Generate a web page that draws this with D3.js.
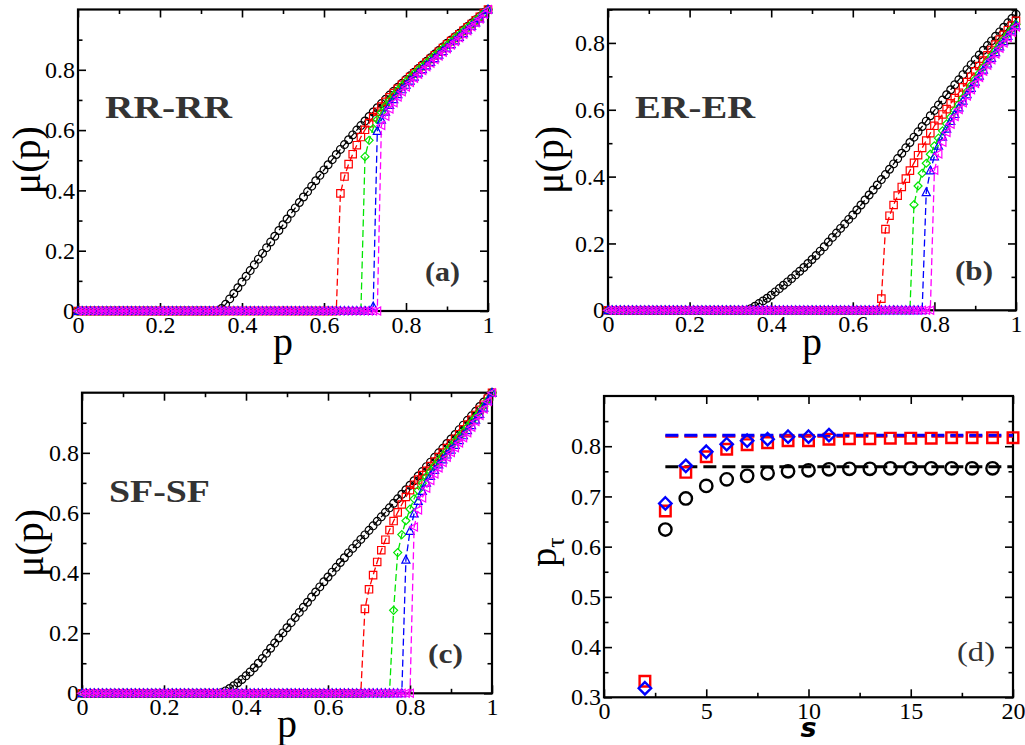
<!DOCTYPE html>
<html>
<head>
<meta charset="utf-8">
<script src="https://cdn.jsdelivr.net/npm/d3@7"></script>
<style>
  body { margin: 0; background: #fff; }
  svg { display: block; }
</style>
</head>
<body>
<svg id="fig" width="1025" height="745"></svg>
<script>
// ---------------------------------------------------------------------------
// Data: mu(p) sampled at p = 0, 0.01, ..., 1 (101 points per series)
// Series order in every panel: black, red, green, blue, magenta
// ---------------------------------------------------------------------------
const pGrid = d3.range(101).map(i => i / 100);

// (a) RR-RR
const rrBlack = [
  0,0,0,0,0,0,0,0,0,0, 0,0,0,0,0,0,0,0,0,0, 0,0,0,0,0,0,0,0,0,0, 0,0,0,0,0,
  .008,.022,.040,.058,.077,
  .096,.115,.134,.153,.172,.191,.210,.229,.248,.267,
  .286,.305,.324,.342,.360,.378,.396,.414,.432,.450,
  .468,.485,.502,.519,.536,.552,.568,.584,.600,.615,
  .630,.645,.660,.674,.688,.702,.716,.729,.742,.755,
  .768,.780,.792,.804,.816,.828,.840,.852,.864,.876,
  .888,.899,.910,.921,.932,.944,.955,.966,.977,.989,
  1.000];
const rrRed = [
  0,0,0,0,0,0,0,0,0,0, 0,0,0,0,0,0,0,0,0,0, 0,0,0,0,0,0,0,0,0,0,
  0,0,0,0,0,0,0,0,0,0, 0,0,0,0,0,0,0,0,0,0, 0,0,0,0,0,0,0,0,0,0, 0,0,0,0,
  .390,.446,.487,.520,.550,.577,
  .601,.623,.643,.661,.678,.694,.709,.723,.737,.750,
  .763,.776,.788,.800,.812,.824,.836,.848,.860,.872,
  .884,.895,.906,.918,.929,.941,.952,.964,.976,.988,
  1.000];
const rrGreen = [
  0,0,0,0,0,0,0,0,0,0, 0,0,0,0,0,0,0,0,0,0, 0,0,0,0,0,0,0,0,0,0,
  0,0,0,0,0,0,0,0,0,0, 0,0,0,0,0,0,0,0,0,0, 0,0,0,0,0,0,0,0,0,0,
  0,0,0,0,0,0,0,0,0,0,
  .512,.566,.605,.635,.659,.680,.699,.716,.732,.747,
  .761,.774,.787,.799,.811,.823,.835,.847,.859,.870,
  .882,.893,.905,.916,.928,.940,.951,.963,.975,.988,
  1.000];
const rrBlue = [
  0,0,0,0,0,0,0,0,0,0, 0,0,0,0,0,0,0,0,0,0, 0,0,0,0,0,0,0,0,0,0,
  0,0,0,0,0,0,0,0,0,0, 0,0,0,0,0,0,0,0,0,0, 0,0,0,0,0,0,0,0,0,0,
  0,0,0,0,0,0,0,0,0,0, 0,0,
  .015,.597,.634,.661,.683,.702,.719,.735,
  .750,.764,.777,.790,.802,.814,.826,.838,.850,.862,
  .873,.885,.897,.909,.921,.933,.945,.957,.970,.985,
  1.000];
const rrMagenta = [
  0,0,0,0,0,0,0,0,0,0, 0,0,0,0,0,0,0,0,0,0, 0,0,0,0,0,0,0,0,0,0,
  0,0,0,0,0,0,0,0,0,0, 0,0,0,0,0,0,0,0,0,0, 0,0,0,0,0,0,0,0,0,0,
  0,0,0,0,0,0,0,0,0,0, 0,0,0,0,
  .615,.646,.670,.691,.710,.727,
  .743,.758,.772,.785,.798,.810,.822,.834,.846,.858,
  .870,.882,.894,.906,.918,.930,.943,.956,.969,.984,
  1.000];

// (b) ER-ER
const erBlack = [
  0,0,0,0,0,0,0,0,0,0, 0,0,0,0,0,0,0,0,0,0, 0,0,0,0,0,0,0,0,0,0, 0,0,0,0,0,
  .005,.012,.020,.028,.036,
  .045,.055,.065,.075,.085,.095,.106,.117,.128,.140,
  .152,.164,.177,.190,.204,.218,.231,.245,.258,.272,
  .285,.300,.315,.330,.345,.360,.375,.391,.406,.422,
  .438,.454,.470,.486,.502,.518,.534,.550,.566,.582,
  .598,.614,.629,.645,.660,.675,.690,.705,.720,.735,
  .750,.764,.778,.792,.806,.820,.833,.847,.860,.873,
  .886];
const erRed = [
  0,0,0,0,0,0,0,0,0,0, 0,0,0,0,0,0,0,0,0,0, 0,0,0,0,0,0,0,0,0,0,
  0,0,0,0,0,0,0,0,0,0, 0,0,0,0,0,0,0,0,0,0, 0,0,0,0,0,0,0,0,0,0, 0,0,0,0,0,0,0,
  .035,.243,.283,
  .315,.343,.369,.394,.418,.441,.464,.486,.508,.530,
  .552,.569,.586,.602,.619,.635,.651,.667,.683,.699,
  .715,.731,.747,.763,.779,.795,.810,.824,.838,.852,
  .866];
const erGreen = [
  0,0,0,0,0,0,0,0,0,0, 0,0,0,0,0,0,0,0,0,0, 0,0,0,0,0,0,0,0,0,0,
  0,0,0,0,0,0,0,0,0,0, 0,0,0,0,0,0,0,0,0,0, 0,0,0,0,0,0,0,0,0,0,
  0,0,0,0,0,0,0,0,0,0, 0,0,0,0,0,
  .316,.372,.410,.440,.467,
  .492,.515,.537,.558,.578,.598,.617,.636,.655,.673,
  .691,.709,.727,.744,.761,.778,.794,.810,.826,.841,
  .856];
const erBlue = [
  0,0,0,0,0,0,0,0,0,0, 0,0,0,0,0,0,0,0,0,0, 0,0,0,0,0,0,0,0,0,0,
  0,0,0,0,0,0,0,0,0,0, 0,0,0,0,0,0,0,0,0,0, 0,0,0,0,0,0,0,0,0,0,
  0,0,0,0,0,0,0,0,0,0, 0,0,0,0,0,0,0,0,
  .353,.418,
  .460,.492,.519,.543,.566,.587,.607,.627,.646,.665,
  .684,.702,.720,.738,.755,.772,.789,.805,.821,.837,
  .852];
const erMagenta = [
  0,0,0,0,0,0,0,0,0,0, 0,0,0,0,0,0,0,0,0,0, 0,0,0,0,0,0,0,0,0,0,
  0,0,0,0,0,0,0,0,0,0, 0,0,0,0,0,0,0,0,0,0, 0,0,0,0,0,0,0,0,0,0,
  0,0,0,0,0,0,0,0,0,0, 0,0,0,0,0,0,0,0,0,0,
  .419,.468,.503,.532,.557,.580,.601,.621,.641,.660,
  .679,.697,.715,.733,.750,.767,.784,.800,.816,.832,
  .848];

// (c) SF-SF
const sfBlack = [
  0,0,0,0,0,0,0,0,0,0, 0,0,0,0,0,0,0,0,0,0, 0,0,0,0,0,0,0,0,0,0, 0,0,0,0,
  .002,.008,.016,.025,.035,.046,
  .058,.071,.085,.100,.116,.133,.150,.167,.184,.201,
  .218,.235,.252,.269,.286,.303,.320,.337,.354,.371,
  .387,.403,.419,.435,.451,.467,.482,.497,.512,.527,
  .542,.557,.572,.587,.602,.617,.632,.647,.662,.677,
  .692,.707,.723,.738,.754,.769,.785,.800,.815,.831,
  .846,.861,.877,.892,.908,.923,.938,.954,.969,.985,
  1.000];
const sfRed = [
  0,0,0,0,0,0,0,0,0,0, 0,0,0,0,0,0,0,0,0,0, 0,0,0,0,0,0,0,0,0,0,
  0,0,0,0,0,0,0,0,0,0, 0,0,0,0,0,0,0,0,0,0, 0,0,0,0,0,0,0,0,0,0,
  0,0,0,0,0,0,0,0,0,
  .281,
  .346,.393,.437,.476,.511,.543,.573,.602,.628,.653,
  .676,.694,.711,.726,.740,.756,.771,.786,.801,.816,
  .831,.847,.862,.878,.894,.910,.926,.943,.960,.980,
  1.000];
const sfGreen = [
  0,0,0,0,0,0,0,0,0,0, 0,0,0,0,0,0,0,0,0,0, 0,0,0,0,0,0,0,0,0,0,
  0,0,0,0,0,0,0,0,0,0, 0,0,0,0,0,0,0,0,0,0, 0,0,0,0,0,0,0,0,0,0,
  0,0,0,0,0,0,0,0,0,0, 0,0,0,0,0,0,
  .276,.468,.528,.574,
  .613,.647,.675,.699,.720,.739,.757,.774,.790,.806,
  .822,.838,.854,.870,.886,.902,.919,.936,.955,.976,
  1.000];
const sfBlue = [
  0,0,0,0,0,0,0,0,0,0, 0,0,0,0,0,0,0,0,0,0, 0,0,0,0,0,0,0,0,0,0,
  0,0,0,0,0,0,0,0,0,0, 0,0,0,0,0,0,0,0,0,0, 0,0,0,0,0,0,0,0,0,0,
  0,0,0,0,0,0,0,0,0,0, 0,0,0,0,0,0,0,0,0,
  .444,
  .540,.598,.640,.673,.700,.723,.743,.761,.778,.794,
  .810,.826,.842,.858,.875,.892,.910,.929,.950,.973,
  1.000];
const sfMagenta = [
  0,0,0,0,0,0,0,0,0,0, 0,0,0,0,0,0,0,0,0,0, 0,0,0,0,0,0,0,0,0,0,
  0,0,0,0,0,0,0,0,0,0, 0,0,0,0,0,0,0,0,0,0, 0,0,0,0,0,0,0,0,0,0,
  0,0,0,0,0,0,0,0,0,0, 0,0,0,0,0,0,0,0,0,0, 0,
  .553,.610,.650,.682,.708,.730,.750,.768,.785,
  .801,.817,.833,.850,.867,.885,.904,.924,.946,.971,
  1.000];

// (d) threshold p_tau versus s
const dBlackS = [3,4,5,6,7,8,9,10,11,12,13,14,15,16,17,18,19];
const dBlack  = [.634,.696,.721,.734,.741,.746,.750,.752,.754,.755,.755,.756,.756,.756,.756,.756,.756];
const dRedS   = [2,3,4,5,6,7,8,9,10,11,12,13,14,15,16,17,18,19,20];
const dRed    = [.332,.671,.748,.779,.794,.803,.807,.811,.811,.814,.815,.815,.816,.816,.816,.817,.817,.817,.817];
const dBlueS  = [2,3,4,5,6,7,8,9,10,11];
const dBlue   = [.318,.686,.761,.789,.804,.811,.814,.819,.819,.822];
// asymptotic values shown as dashed lines from s = 3 to s = 20
const dLimitBlack = 0.759;
const dLimitRed   = 0.820;
const dLimitBlue  = 0.822;
const dLimitRange = [3, 20];

// Tick values
const pMajor = [0, 0.2, 0.4, 0.6, 0.8, 1];
const pMinor = [0.1, 0.3, 0.5, 0.7, 0.9];
const muMajor = [0, 0.2, 0.4, 0.6, 0.8];
const muMinor = [0.1, 0.3, 0.5, 0.7, 0.9];
const sMajor = [0, 5, 10, 15, 20];
const sMinor = [2.5, 7.5, 12.5, 17.5];
const ptMajor = [0.3, 0.4, 0.5, 0.6, 0.7, 0.8];
const ptMinor = [0.35, 0.45, 0.55, 0.65, 0.75, 0.85];

// ---------------------------------------------------------------------------
// Drawing
// ---------------------------------------------------------------------------
const SERIF = '"Liberation Serif", "Times New Roman", serif';
const SANS  = '"DejaVu Sans", "Liberation Sans", Arial, sans-serif';
const colors  = ["#000000", "#ff0000", "#00e600", "#0000ff", "#ff00ff"];
const symbols = ["circle", "square", "diamond", "triUp", "triLeft"];

const svg = d3.select("#fig");

function symbolPath(type, h) {
  switch (type) {
    case "square":  return `M${-h},${-h}H${h}V${h}H${-h}Z`;
    case "diamond": return `M0,${-h}L${h},0L0,${h}L${-h},0Z`;
    case "triUp":   return `M0,${-h}L${h*0.9},${h*0.75}L${-h*0.9},${h*0.75}Z`;
    case "triLeft": return `M${-h},0L${h*0.75},${-h*0.9}L${h*0.75},${h*0.9}Z`;
    default:        return d3.symbol(d3.symbolCircle, Math.PI * h * h)();
  }
}

function drawFrameAndAxes(g, box, x, y, xMaj, xMin, yMaj, yMin, xFmt, yFmt) {
  const styleAxis = sel => {
    sel.select(".domain").remove();
    sel.selectAll(".tick line").attr("stroke", "#000").attr("stroke-width", 1.6);
    sel.selectAll(".tick text").attr("fill", "#000")
      .style("font-family", SERIF).style("font-size", "24px");
  };
  const maj = 8, mnr = 4.5;
  g.append("g").attr("transform", `translate(0,${box.bottom})`)
    .call(d3.axisBottom(x).tickValues(xMaj).tickSize(-maj).tickPadding(5).tickFormat(xFmt)).call(styleAxis);
  g.append("g").attr("transform", `translate(0,${box.bottom})`)
    .call(d3.axisBottom(x).tickValues(xMin).tickSize(-mnr).tickFormat("")).call(styleAxis);
  g.append("g").attr("transform", `translate(0,${box.top})`)
    .call(d3.axisTop(x).tickValues(xMaj).tickSize(-maj).tickFormat("")).call(styleAxis);
  g.append("g").attr("transform", `translate(0,${box.top})`)
    .call(d3.axisTop(x).tickValues(xMin).tickSize(-mnr).tickFormat("")).call(styleAxis);
  g.append("g").attr("transform", `translate(${box.left},0)`)
    .call(d3.axisLeft(y).tickValues(yMaj).tickSize(-maj).tickPadding(3).tickFormat(yFmt)).call(styleAxis);
  g.append("g").attr("transform", `translate(${box.left},0)`)
    .call(d3.axisLeft(y).tickValues(yMin).tickSize(-mnr).tickFormat("")).call(styleAxis);
  g.append("g").attr("transform", `translate(${box.right},0)`)
    .call(d3.axisRight(y).tickValues(yMaj).tickSize(-maj).tickFormat("")).call(styleAxis);
  g.append("g").attr("transform", `translate(${box.right},0)`)
    .call(d3.axisRight(y).tickValues(yMin).tickSize(-mnr).tickFormat("")).call(styleAxis);
  g.append("rect")
    .attr("x", box.left).attr("y", box.top)
    .attr("width", box.right - box.left).attr("height", box.bottom - box.top)
    .attr("fill", "none").attr("stroke", "#000").attr("stroke-width", 2.2);
}

const fmtP = d => (d === 0 || d === 1) ? String(d) : d.toFixed(1);

// Panels (a)-(c): mu(p)
const muPanels = [
  { box: {left: 78,  right: 488, top: 9.5,   bottom: 311},   yMax: 1.0,
    series: [rrBlack, rrRed, rrGreen, rrBlue, rrMagenta],
    name: "RR-RR", nameAt: [105, 118, 127], tag: "(a)", tagAt: [425, 281, 35],
    yLabelX: 40, xLabelY: 355 },
  { box: {left: 608, right: 1016, top: 9.5,  bottom: 310.3}, yMax: 0.9,
    series: [erBlack, erRed, erGreen, erBlue, erMagenta],
    name: "ER-ER", nameAt: [635, 118, 120], tag: "(b)", tagAt: [955, 280, 38],
    yLabelX: 563, xLabelY: 355 },
  { box: {left: 82,  right: 492, top: 392.7, bottom: 693.3}, yMax: 1.0,
    series: [sfBlack, sfRed, sfGreen, sfBlue, sfMagenta],
    name: "SF-SF", nameAt: [109, 502, 101], tag: "(c)", tagAt: [428, 663, 35],
    yLabelX: 43, xLabelY: 737 }
];

muPanels.forEach(P => {
  const b = P.box;
  const g = svg.append("g");
  const x = d3.scaleLinear().domain([0, 1]).range([b.left, b.right]);
  const y = d3.scaleLinear().domain([0, P.yMax]).range([b.bottom, b.top]);

  drawFrameAndAxes(g, b, x, y, pMajor, pMinor, muMajor,
    muMinor.filter(v => v < P.yMax + 1e-9), fmtP, fmtP);

  const line = d3.line().x((d, i) => x(pGrid[i])).y(d => y(d));
  P.series.forEach((vals, k) => {
    g.append("path").datum(vals)
      .attr("d", line).attr("fill", "none")
      .attr("stroke", colors[k]).attr("stroke-width", 1.3)
      .attr("stroke-dasharray", "7,3.5");
    const h = [3.9, 3.7, 4.0, 4.5, 4.5][k];
    g.append("g").selectAll("path").data(vals).join("path")
      .attr("transform", (d, i) => `translate(${x(pGrid[i])},${y(d)})`)
      .attr("d", symbolPath(symbols[k], h))
      .attr("fill", "none").attr("stroke", colors[k]).attr("stroke-width", 1.2);
  });

  g.append("text").text(P.name)
    .attr("x", P.nameAt[0]).attr("y", P.nameAt[1])
    .attr("textLength", P.nameAt[2]).attr("lengthAdjust", "spacingAndGlyphs")
    .style("font-family", SERIF).style("font-size", "31px")
    .attr("font-weight", "bold").attr("fill", "#333");
  g.append("text").text(P.tag)
    .attr("x", P.tagAt[0]).attr("y", P.tagAt[1])
    .attr("textLength", P.tagAt[2]).attr("lengthAdjust", "spacingAndGlyphs")
    .style("font-family", SERIF).style("font-size", "27px")
    .attr("font-weight", "bold").attr("fill", "#333");

  g.append("text").text("μ(p)")
    .attr("transform", `translate(${P.yLabelX},${(b.top + b.bottom) / 2}) rotate(-90)`)
    .attr("text-anchor", "middle").style("font-family", SERIF).style("font-size", "40px")
    .attr("fill", "#000");
  g.append("text").text("p")
    .attr("x", (b.left + b.right) / 2).attr("y", P.xLabelY)
    .attr("text-anchor", "middle").style("font-family", SERIF).style("font-size", "40px")
    .attr("fill", "#000");
});

// Panel (d): p_tau versus s
(() => {
  const b = {left: 604, right: 1013, top: 396, bottom: 697.3};
  const g = svg.append("g");
  const x = d3.scaleLinear().domain([0, 20]).range([b.left, b.right]);
  const y = d3.scaleLinear().domain([0.3, 0.9]).range([b.bottom, b.top]);

  drawFrameAndAxes(g, b, x, y, sMajor, sMinor, ptMajor, ptMinor,
    d3.format("d"), d3.format(".1f"));

  const limits = [[dLimitBlack, colors[0]], [dLimitRed, colors[1]], [dLimitBlue, colors[3]]];
  limits.forEach(([v, c]) => {
    g.append("line")
      .attr("x1", x(dLimitRange[0])).attr("x2", x(dLimitRange[1]))
      .attr("y1", y(v)).attr("y2", y(v))
      .attr("stroke", c).attr("stroke-width", 3).attr("stroke-dasharray", "13,6");
  });

  const sets = [
    [dBlackS, dBlack, "circle", colors[0], 6.2],
    [dRedS, dRed, "square", colors[1], 5.3],
    [dBlueS, dBlue, "diamond", colors[3], 6.2]
  ];
  sets.forEach(([sv, vv, sym, c, h]) => {
    g.append("g").selectAll("path").data(vv).join("path")
      .attr("transform", (d, i) => `translate(${x(sv[i])},${y(d)})`)
      .attr("d", symbolPath(sym, h))
      .attr("fill", "none").attr("stroke", c).attr("stroke-width", 2.4);
  });

  g.append("text").text("(d)")
    .attr("x", 957).attr("y", 661)
    .attr("textLength", 38).attr("lengthAdjust", "spacingAndGlyphs")
    .style("font-family", SERIF).style("font-size", "27px").attr("fill", "#333");

  const yl = g.append("text")
    .attr("transform", `translate(556,552) rotate(-90)`)
    .attr("text-anchor", "middle").style("font-family", SERIF).style("font-size", "38px")
    .attr("fill", "#000");
  yl.append("tspan").text("p");
  yl.append("tspan").text("τ").style("font-size", "26px").attr("dy", "0.3em");

  g.append("text").text("s")
    .attr("x", (b.left + b.right) / 2).attr("y", 737)
    .attr("text-anchor", "middle").style("font-family", SANS).style("font-size", "27px")
    .style("font-style", "oblique").style("font-weight", "bold").attr("fill", "#000");
})();
</script>
</body>
</html>
